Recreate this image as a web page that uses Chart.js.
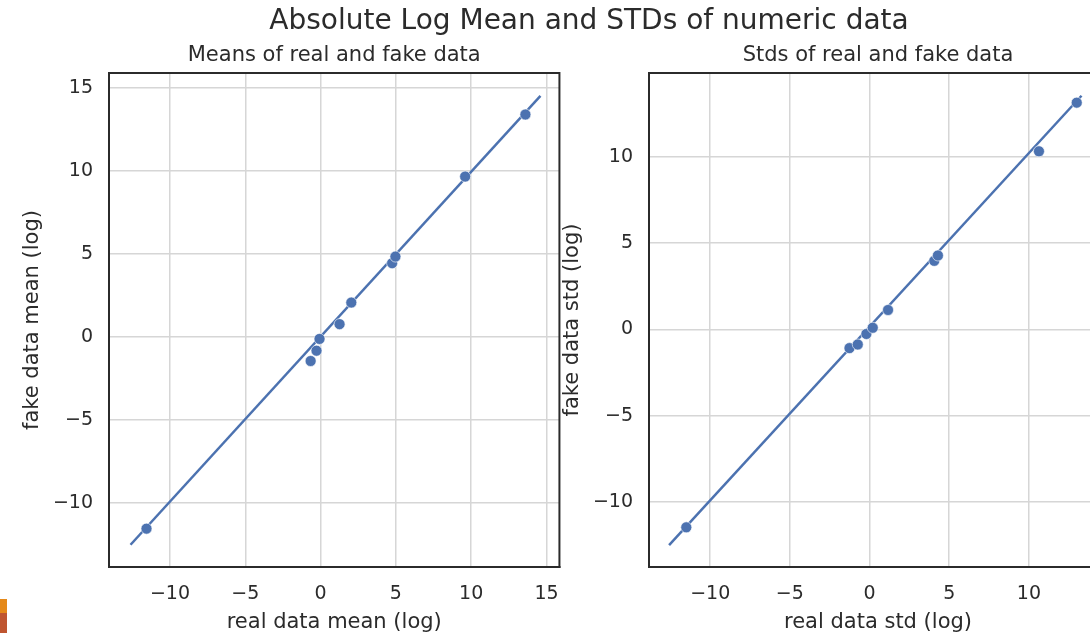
<!DOCTYPE html>
<html>
<head>
<meta charset="utf-8">
<script src="https://cdn.jsdelivr.net/npm/chart.js@4/dist/chart.umd.min.js"></script>
<style>
  html, body { margin: 0; padding: 0; background: #ffffff; }
  body { width: 1090px; height: 633px; overflow: hidden; position: relative; font-family: "DejaVu Sans", sans-serif; }
  canvas { position: absolute; top: 0; }
  #mainTitle { position: absolute; left: 0; top: 4px; width: 1178px; text-align: center; font-size: 28px; line-height: 32px; color: #2b2b2b; }
  .mark1 { position: absolute; left: 0; top: 599px; width: 7px; height: 14px; background: #e5891a; }
  .mark2 { position: absolute; left: 0; top: 613px; width: 7px; height: 20px; background: #bf5530; }
</style>
</head>
<body>
<canvas id="left" width="575" height="633" style="left:0px"></canvas>
<canvas id="right" width="580" height="633" style="left:540px"></canvas>
<div id="mainTitle">Absolute Log Mean and STDs of numeric data</div>
<div class="mark1"></div>
<div class="mark2"></div>
<script>
// ---- data ----
const meansReal = [-11.56, -0.66, -0.27, -0.07, 1.26, 2.04, 4.75, 4.97, 9.6, 13.6];
const meansFake = [-11.55, -1.45, -0.83, -0.12, 0.77, 2.07, 4.44, 4.84, 9.66, 13.4];
const stdsReal = [-11.5, -1.26, -0.74, -0.2, 0.2, 1.16, 4.06, 4.29, 10.63, 13.0];
const stdsFake = [-11.47, -1.08, -0.87, -0.26, 0.1, 1.13, 3.98, 4.29, 10.33, 13.15];
const meansLineX = [-12.62, 14.6];
const meansLineY = [-12.52, 14.52];
const stdsLineX = [-12.58, 13.3];
const stdsLineY = [-12.5, 13.55];
const tickStep = 5;

const BLUE = '#4c72b0';
const TEXT = '#2b2b2b';
const FONT = '"DejaVu Sans", sans-serif';

function pts(xs, ys) { return xs.map((x, i) => ({ x: x, y: ys[i] })); }
function fmt(v) { return v < 0 ? '\u2212' + Math.abs(v) : String(v); }

const frame = {
  id: 'frame',
  afterDraw(chart, args, opts) {
    const a = chart.chartArea, c = chart.ctx;
    c.save();
    c.strokeStyle = TEXT;
    c.lineWidth = 2;
    c.strokeRect(a.left, a.top, a.right - a.left, a.bottom - a.top);
    c.fillStyle = TEXT;
    c.font = '21px ' + FONT;
    c.textAlign = 'center';
    c.textBaseline = 'middle';
    c.fillText(opts.text, (a.left + a.right) / 2, 56);
    c.restore();
  }
};

function makeChart(id, cfg) {
  return new Chart(document.getElementById(id), {
    type: 'scatter',
    data: {
      datasets: [
        { type: 'line', data: pts(cfg.lineX, cfg.lineY), borderColor: BLUE, borderWidth: 2.5,
          pointRadius: 0, fill: false, order: 2 },
        { type: 'scatter', data: pts(cfg.xs, cfg.ys), backgroundColor: BLUE, borderColor: '#ffffff',
          borderWidth: 0.6, pointRadius: 5.5, order: 1 }
      ]
    },
    options: {
      responsive: false,
      animation: false,
      layout: { padding: { left: 0, right: cfg.padRight, top: 73, bottom: 0 } },
      plugins: {
        legend: { display: false },
        tooltip: { enabled: false },
        title: { display: false },
        frame: { text: cfg.title }
      },
      scales: {
        x: {
          type: 'linear', position: 'bottom', min: cfg.xMin, max: cfg.xMax,
          afterFit: s => { s.height = 66; },
          ticks: { stepSize: tickStep, includeBounds: false, color: TEXT, padding: 16,
            font: { family: FONT, size: 19 }, callback: fmt, maxRotation: 0 },
          grid: { color: '#d6d6d6', lineWidth: 1.5, drawTicks: false },
          border: { display: true, color: TEXT, width: 2 },
          title: { display: true, text: cfg.xLabel, color: TEXT, font: { family: FONT, size: 21 }, padding: { top: 0, bottom: -2.5 } }
        },
        y: {
          type: 'linear', position: 'left', min: cfg.yMin, max: cfg.yMax,
          afterFit: s => { s.width = 109; },
          ticks: { stepSize: tickStep, includeBounds: false, color: TEXT, padding: 16,
            font: { family: FONT, size: 19 }, callback: fmt },
          grid: { color: '#d6d6d6', lineWidth: 1.5, drawTicks: false },
          border: { display: true, color: TEXT, width: 2 },
          title: { display: true, text: cfg.yLabel, color: TEXT, font: { family: FONT, size: 21 }, padding: { top: 20.4, bottom: 0 } }
        }
      }
    },
    plugins: [frame]
  });
}

makeChart('left', {
  title: 'Means of real and fake data',
  xs: meansReal, ys: meansFake, lineX: meansLineX, lineY: meansLineY,
  xMin: -14.05, xMax: 15.86, yMin: -13.86, yMax: 15.9,
  xLabel: 'real data mean (log)', yLabel: 'fake data mean (log)', padRight: 15
});
makeChart('right', {
  title: 'Stds of real and fake data',
  xs: stdsReal, ys: stdsFake, lineX: stdsLineX, lineY: stdsLineY,
  xMin: -13.84, xMax: 14.9, yMin: -13.77, yMax: 14.87,
  xLabel: 'real data std (log)', yLabel: 'fake data std (log)', padRight: 13
});
</script>
</body>
</html>
